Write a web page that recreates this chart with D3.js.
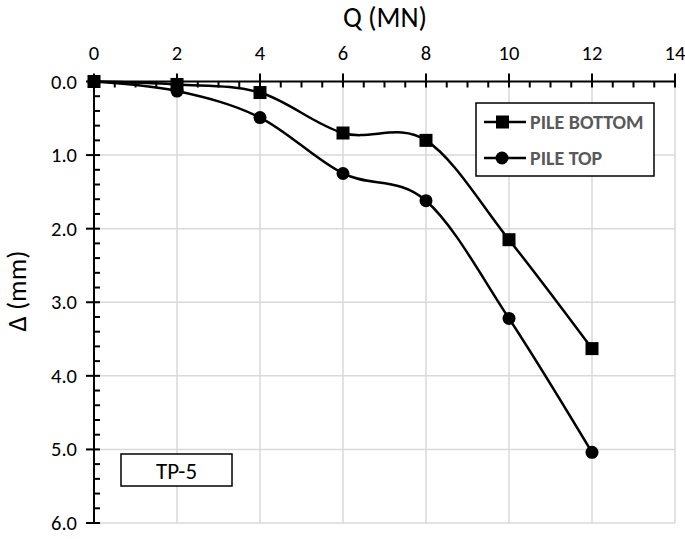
<!DOCTYPE html>
<html><head><meta charset="utf-8">
<script src="https://cdn.jsdelivr.net/npm/d3@7"></script>
<style>body{margin:0;background:#fff}svg{display:block}text{font-family:Carlito,Lato,"Liberation Sans",sans-serif}</style>
</head><body><div id="chart"></div>
<script>
const loads = [0, 2, 4, 6, 8, 10, 12];
const pileBottom = [0, 0.04, 0.15, 0.70, 0.80, 2.15, 3.63];
const pileTop = [0, 0.13, 0.49, 1.25, 1.62, 3.22, 5.04];
const xTicks = [0, 2, 4, 6, 8, 10, 12, 14];
const yTicks = [0, 1, 2, 3, 4, 5, 6];
const seriesNames = ["PILE BOTTOM", "PILE TOP"];
const boxLabel = "TP-5";

const W = 685, H = 539;
const svg = d3.select("#chart").append("svg").attr("width", W).attr("height", H);
const x = d3.scaleLinear().domain([0, 14]).range([94, 675]);
const y = d3.scaleLinear().domain([0, 6]).range([81.5, 523]);

// grid
const grid = svg.append("g").attr("stroke", "#d9d9d9").attr("stroke-width", 1.5);
grid.selectAll("line.v").data(xTicks.filter(d => d > 0)).join("line")
  .attr("x1", d => x(d)).attr("x2", d => x(d)).attr("y1", y(0)).attr("y2", y(6));
grid.selectAll("line.h").data(yTicks.filter(d => d > 0)).join("line")
  .attr("x1", x(0)).attr("x2", x(14)).attr("y1", d => y(d)).attr("y2", d => y(d));

// x axis (top)
const xMinor = d3.range(0, 14.01, 0.5).filter(d => d % 2 !== 0);
const xa = svg.append("g").attr("stroke", "#000").attr("stroke-width", 2);
xa.append("line").attr("x1", x(0)).attr("x2", x(14)).attr("y1", y(0)).attr("y2", y(0));
xa.selectAll("line.maj").data(xTicks).join("line").attr("class", "maj")
  .attr("x1", d => x(d)).attr("x2", d => x(d)).attr("y1", y(0) - 8).attr("y2", y(0) + 6);
xa.selectAll("line.min").data(xMinor).join("line").attr("class", "min")
  .attr("x1", d => x(d)).attr("x2", d => x(d)).attr("y1", y(0)).attr("y2", y(0) + 6);
svg.append("g").selectAll("text").data(xTicks).join("text")
  .attr("x", d => x(d)).attr("y", 60).attr("text-anchor", "middle")
  .attr("font-size", 20.5).attr("fill", "#000").text(d => d);

// y axis
const yMinor = d3.range(0, 6.001, 0.2).filter(d => Math.abs(d - Math.round(d)) > 0.01);
const ya = svg.append("g").attr("stroke", "#000").attr("stroke-width", 2);
ya.append("line").attr("x1", x(0)).attr("x2", x(0)).attr("y1", y(0)).attr("y2", y(6));
ya.selectAll("line.maj").data(yTicks).join("line").attr("class", "maj")
  .attr("x1", x(0) - 8).attr("x2", x(0) + 6).attr("y1", d => y(d)).attr("y2", d => y(d));
ya.selectAll("line.min").data(yMinor).join("line").attr("class", "min")
  .attr("x1", x(0)).attr("x2", x(0) + 6).attr("y1", d => y(d)).attr("y2", d => y(d));
svg.append("g").selectAll("text").data(yTicks).join("text")
  .attr("x", 77).attr("y", d => y(d) + 7).attr("text-anchor", "end")
  .attr("font-size", 20.5).attr("fill", "#000").text(d => d.toFixed(1));

// axis titles
svg.append("text").attr("x", 385).attr("y", 27).attr("text-anchor", "middle")
  .attr("font-size", 28).attr("fill", "#000").text("Q (MN)");
svg.append("text").attr("transform", "translate(16,291) rotate(-90)").attr("text-anchor", "middle")
  .attr("dominant-baseline", "central")
  .attr("font-size", 27).attr("fill", "#000").text("Δ (mm)");

// lines
const line = d3.line().x(d => x(d[0])).y(d => y(d[1])).curve(d3.curveCardinal.tension(0));
const bData = loads.map((q, i) => [q, pileBottom[i]]);
const tData = loads.map((q, i) => [q, pileTop[i]]);
svg.append("path").attr("d", line(tData)).attr("fill", "none").attr("stroke", "#000").attr("stroke-width", 2.5);
svg.append("path").attr("d", line(bData)).attr("fill", "none").attr("stroke", "#000").attr("stroke-width", 2.5);
svg.append("g").selectAll("circle").data(tData).join("circle")
  .attr("cx", d => x(d[0])).attr("cy", d => y(d[1])).attr("r", 6.5).attr("fill", "#000");
svg.append("g").selectAll("rect").data(bData).join("rect")
  .attr("x", d => x(d[0]) - 6.5).attr("y", d => y(d[1]) - 6.5).attr("width", 13).attr("height", 13).attr("fill", "#000");

// legend
const lg = svg.append("g");
lg.append("rect").attr("x", 476).attr("y", 103).attr("width", 178).attr("height", 73)
  .attr("fill", "#fff").attr("stroke", "#000").attr("stroke-width", 1.5);
[122, 158].forEach((ly, i) => {
  lg.append("line").attr("x1", 484).attr("x2", 526).attr("y1", ly).attr("y2", ly).attr("stroke", "#000").attr("stroke-width", 2.5);
  if (i === 0) lg.append("rect").attr("x", 496).attr("y", ly - 6.5).attr("width", 13).attr("height", 13).attr("fill", "#000");
  else lg.append("circle").attr("cx", 502).attr("cy", ly).attr("r", 6.5).attr("fill", "#000");
  lg.append("text").attr("x", 530).attr("y", ly + 7).attr("font-size", 20).attr("font-weight", "bold")
    .attr("fill", "#595959").text(seriesNames[i]);
});

// TP-5 box
svg.append("rect").attr("x", 121).attr("y", 454).attr("width", 111).attr("height", 32)
  .attr("fill", "#fff").attr("stroke", "#000").attr("stroke-width", 1.5);
svg.append("text").attr("x", 176.5).attr("y", 478.5).attr("text-anchor", "middle")
  .attr("font-size", 23).attr("fill", "#000").text(boxLabel);
</script></body></html>
